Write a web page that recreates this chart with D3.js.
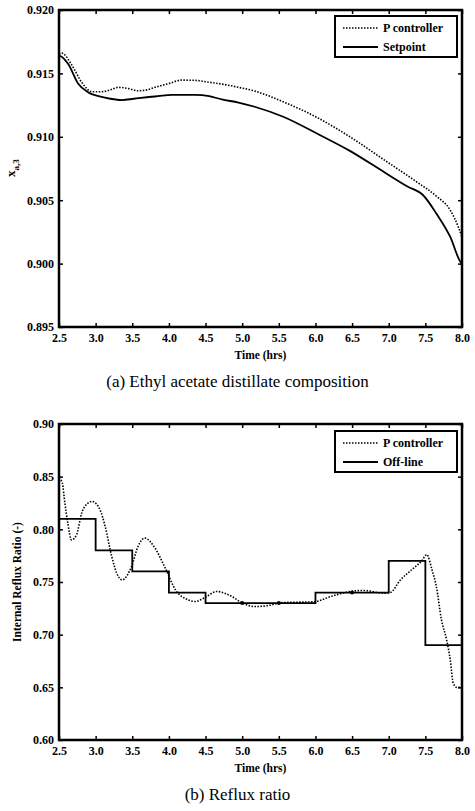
<!DOCTYPE html>
<html>
<head>
<meta charset="utf-8">
<script src="https://cdn.jsdelivr.net/npm/d3@7"></script>
<style>
  body { margin: 0; background: #fff; }
  svg { display: block; }
  text { font-family: "Liberation Serif", "Times New Roman", serif; fill: #000; }
</style>
</head>
<body>
<div id="chart"></div>
<script>
    // (a) distillate composition
    const timeA = [2.5, 2.54, 2.63, 2.76, 2.9, 3.04, 3.2, 3.36, 3.52, 3.67, 3.85, 4.04, 4.2, 4.36, 4.55, 4.72, 4.95, 5.17, 5.56, 6.02, 6.47, 6.93, 7.25, 7.47, 7.65, 7.84, 7.98, 8.0];
    const setpoint = [0.9164, 0.9163, 0.9157, 0.9142, 0.9135, 0.9132, 0.9130, 0.9129, 0.9130, 0.9131, 0.9132, 0.9133, 0.9133, 0.9133, 0.9132, 0.91295, 0.9127, 0.91237, 0.91158, 0.91026, 0.90889, 0.90724, 0.9061, 0.90539, 0.90395, 0.9021, 0.90013, 0.9000];
    const timeP = [2.5, 2.54, 2.67, 2.81, 2.95, 3.08, 3.2, 3.31, 3.45, 3.58, 3.7, 3.81, 4.0, 4.17, 4.36, 4.55, 4.72, 4.95, 5.17, 5.56, 6.02, 6.47, 6.93, 7.38, 7.65, 7.84, 7.95, 8.0];
    const pctrlA = [0.9165, 0.9166, 0.9157, 0.9143, 0.91355, 0.91355, 0.9137, 0.9139, 0.9138, 0.91363, 0.9137, 0.9139, 0.9142, 0.91447, 0.91445, 0.9143, 0.91416, 0.9139, 0.91361, 0.91276, 0.91153, 0.91, 0.90821, 0.90645, 0.90532, 0.90421, 0.90289, 0.9021];

    // (b) reflux ratio
    const timeB = [2.5, 2.545, 2.58, 2.62, 2.67, 2.74, 2.81, 2.88, 2.95, 3.06, 3.13, 3.22, 3.29, 3.36, 3.49, 3.58, 3.67, 3.81, 3.95, 4.09, 4.26, 4.36, 4.5, 4.65, 4.86, 4.99, 5.17, 5.33, 5.56, 5.97, 6.24, 6.47, 6.65, 6.93, 7.02, 7.16, 7.34, 7.45, 7.52, 7.59, 7.65, 7.72, 7.79, 7.84, 7.88, 7.93, 8.0];
    const pctrlB = [0.849, 0.844, 0.825, 0.806, 0.790, 0.795, 0.8155, 0.824, 0.8265, 0.8186, 0.8027, 0.7742, 0.758, 0.752, 0.7647, 0.784, 0.7917, 0.7822, 0.7632, 0.7426, 0.7331, 0.7315, 0.7356, 0.741, 0.7362, 0.7305, 0.7267, 0.7274, 0.7305, 0.7312, 0.7369, 0.741, 0.742, 0.7394, 0.740, 0.752, 0.7632, 0.770, 0.776, 0.7616, 0.7457, 0.714, 0.695, 0.676, 0.654, 0.650, 0.650];
    const stepTimes = [2.5, 3.0, 3.5, 4.0, 4.5, 5.0, 5.5, 6.0, 6.5, 7.0, 7.5, 8.0];
    const offline = [0.81, 0.78, 0.76, 0.74, 0.73, 0.73, 0.73, 0.74, 0.74, 0.77, 0.69, 0.69];

    const xTicks = [2.5, 3.0, 3.5, 4.0, 4.5, 5.0, 5.5, 6.0, 6.5, 7.0, 7.5, 8.0];
    const yTicksA = [0.895, 0.900, 0.905, 0.910, 0.915, 0.920];
    const yTicksB = [0.60, 0.65, 0.70, 0.75, 0.80, 0.85, 0.90];

    const width = 475, height = 811;
    const svg = d3.select("#chart").append("svg")
        .attr("width", width)
        .attr("height", height);

    function drawPanel(opt) {
        const x = d3.scaleLinear().domain([2.5, 8.0]).range([59, 462]);
        const y = d3.scaleLinear().domain(opt.yDomain).range([opt.bottom, opt.top]);
        const g = svg.append("g");

        const tickStyle = sel => {
            sel.select(".domain").remove();
            sel.selectAll(".tick line").attr("stroke", "#000").attr("stroke-width", 1.5);
            sel.selectAll("text")
                .style("font-family", '"Liberation Serif", "Times New Roman", serif')
                .style("font-weight", "bold")
                .style("font-size", "12px");
        };

        g.append("g").attr("transform", `translate(0,${opt.bottom})`)
            .call(d3.axisBottom(x).tickValues(xTicks).tickFormat(d3.format(".1f")).tickSize(-4).tickPadding(6))
            .call(tickStyle);
        g.append("g").attr("transform", `translate(0,${opt.top})`)
            .call(d3.axisTop(x).tickValues(xTicks).tickFormat("").tickSize(-4))
            .call(tickStyle);
        g.append("g").attr("transform", `translate(59,0)`)
            .call(d3.axisLeft(y).tickValues(opt.yTicks).tickFormat(d3.format(opt.fmt)).tickSize(-4).tickPadding(5))
            .call(tickStyle);
        g.append("g").attr("transform", `translate(462,0)`)
            .call(d3.axisRight(y).tickValues(opt.yTicks).tickFormat("").tickSize(-4))
            .call(tickStyle);

        // frame
        g.append("rect")
            .attr("x", 59).attr("y", opt.top)
            .attr("width", 462 - 59).attr("height", opt.bottom - opt.top)
            .attr("fill", "none").attr("stroke", "#000").attr("stroke-width", 2.5);

        const smooth = d3.line().x(d => x(d[0])).y(d => y(d[1])).curve(d3.curveMonotoneX);

        g.append("path")
            .datum(opt.dotT.map((t, i) => [t, opt.dotV[i]]))
            .attr("d", smooth)
            .attr("fill", "none").attr("stroke", "#000")
            .attr("stroke-width", 1.6).attr("stroke-dasharray", "1.5,1.5");

        if (opt.step) {
            const stepLine = d3.line().x(d => x(d[0])).y(d => y(d[1])).curve(d3.curveStepAfter);
            const pts = opt.solidT.map((t, i) => [t, opt.solidV[i]]);
            g.append("path")
                .datum(pts)
                .attr("d", stepLine)
                .attr("fill", "none").attr("stroke", "#000").attr("stroke-width", 1.8);
            g.selectAll(".mark")
                .data(pts.filter((d, i) => i > 0 && i < pts.length - 1 && d[1] === pts[i - 1][1]))
                .join("circle")
                .attr("cx", d => x(d[0])).attr("cy", d => y(d[1]))
                .attr("r", 2).attr("fill", "#000");
        } else {
            g.append("path")
                .datum(opt.solidT.map((t, i) => [t, opt.solidV[i]]))
                .attr("d", smooth)
                .attr("fill", "none").attr("stroke", "#000").attr("stroke-width", 1.8);
        }

        // legend
        const lg = g.append("g");
        lg.append("rect")
            .attr("x", 335).attr("y", opt.top + opt.legY)
            .attr("width", 122).attr("height", 41)
            .attr("fill", "#fff").attr("stroke", "#000").attr("stroke-width", 2);
        const items = [{ name: "P controller", dash: "1.5,1.5", w: 1.6 }, { name: opt.solidName, dash: null, w: 1.8 }];
        items.forEach((d, i) => {
            const yy = opt.top + opt.legY + 12 + i * 19;
            lg.append("line")
                .attr("x1", 343).attr("x2", 378).attr("y1", yy).attr("y2", yy)
                .attr("stroke", "#000").attr("stroke-width", d.w)
                .attr("stroke-dasharray", d.dash);
            lg.append("text")
                .attr("x", 383).attr("y", yy + 4)
                .style("font-weight", "bold").style("font-size", "12px")
                .text(d.name);
        });

        g.append("text")
            .attr("x", 260.5).attr("y", opt.bottom + 32)
            .attr("text-anchor", "middle")
            .style("font-weight", "bold").style("font-size", "11.5px")
            .text("Time (hrs)");

        g.append("text")
            .attr("x", 237.5).attr("y", opt.bottom + 60)
            .attr("text-anchor", "middle")
            .style("font-size", "17px")
            .text(opt.caption);

        return g;
    }

    const gA = drawPanel({
        top: 10, bottom: 327, yDomain: [0.895, 0.920], yTicks: yTicksA, fmt: ".3f",
        dotT: timeP, dotV: pctrlA, solidT: timeA, solidV: setpoint, step: false,
        solidName: "Setpoint", legY: 6, caption: "(a) Ethyl acetate distillate composition"
    });
    const yl = gA.append("text")
        .attr("transform", "translate(15,168) rotate(-90)")
        .attr("text-anchor", "middle")
        .style("font-weight", "bold").style("font-size", "13px");
    yl.append("tspan").text("x");
    yl.append("tspan").attr("dy", 4).style("font-size", "9px").text("a,3");

    const gB = drawPanel({
        top: 424, bottom: 740, yDomain: [0.60, 0.90], yTicks: yTicksB, fmt: ".2f",
        dotT: timeB, dotV: pctrlB, solidT: stepTimes, solidV: offline, step: true,
        solidName: "Off-line", legY: 7, caption: "(b) Reflux ratio"
    });
    gB.append("text")
        .attr("transform", "translate(21,582) rotate(-90)")
        .attr("text-anchor", "middle")
        .style("font-weight", "bold").style("font-size", "11.5px")
        .text("Internal Reflux Ratio (-)");
</script>
</body>
</html>
